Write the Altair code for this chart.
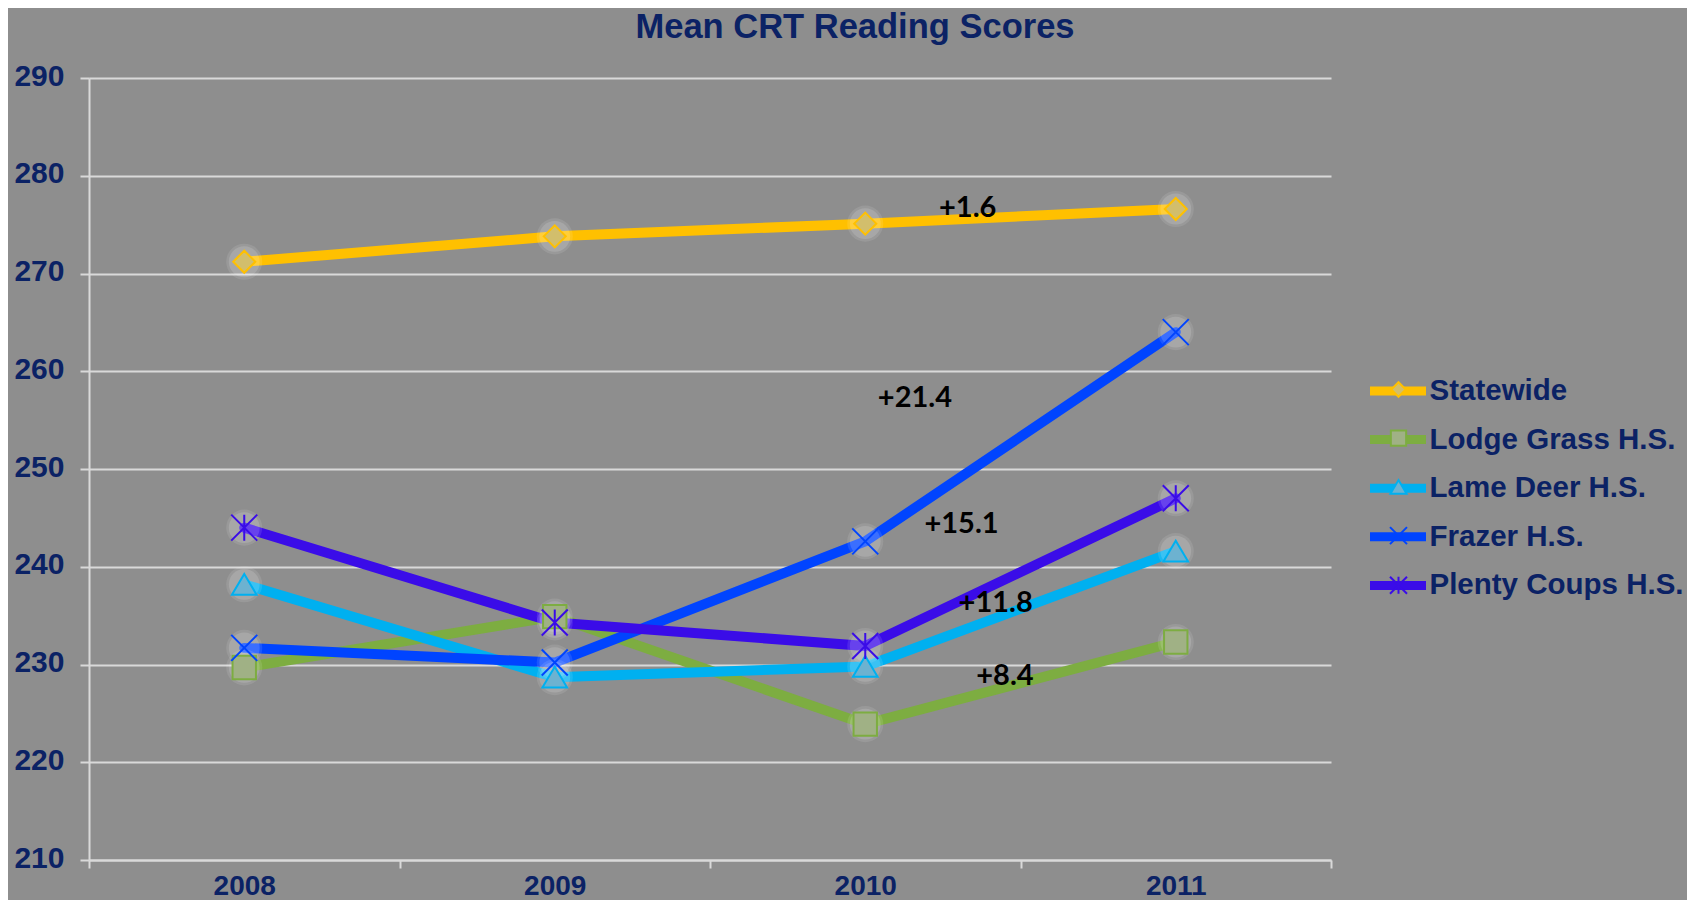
import altair as alt
import pandas as pd

# ---- data ----
years = [2008, 2009, 2010, 2011]
series = ["Statewide", "Lodge Grass H.S.", "Lame Deer H.S.", "Frazer H.S.", "Plenty Coups H.S."]
statewide = [271.2, 273.8, 275.1, 276.6]
lodge_grass = [229.7, 234.9, 223.9, 232.3]
lame_deer = [238.2, 228.7, 229.8, 241.6]
frazer = [231.7, 230.2, 242.6, 264.0]
plenty_coups = [244.0, 234.3, 231.9, 247.0]

ann_text = ["+1.6", "+21.4", "+15.1", "+11.8", "+8.4"]
ann_year = [2010.33, 2010.16, 2010.31, 2010.42, 2010.45]
ann_score = [276.75, 257.3, 244.4, 236.3, 228.8]

y_ticks = [210, 220, 230, 240, 250, 260, 270, 280, 290]
x_ticks = [2007.5, 2008, 2008.5, 2009, 2009.5, 2010, 2010.5, 2011, 2011.5]

# ---- styles ----
line_colors = ["#FFC000", "#7DAD41", "#00B0F0", "#0044FF", "#3A0CE8"]
fill_colors = ["#D2BE6C", "#A0B185", "#6DB2D0", "#0044FF", "#3A0CE8"]
shapes = [
    "M-0.85,0L0,-0.85L0.85,0L0,0.85Z",
    "M-0.9,-0.9H0.9V0.9H-0.9Z",
    "M0,-0.8L0.95,0.8L-0.95,0.8Z",
    "M-1,-1L1,1M-1,1L1,-1",
    "M-1,-1L1,1M-1,1L1,-1M0,-1L0,1",
]
NAVY = "#0B2265"
GRID = "#D9D9D9"
BG = "#8E8E8E"
FONT = "Liberation Sans"

values_by_series = [statewide, lodge_grass, lame_deer, frazer, plenty_coups]
rows = []
for name, vals in zip(series, values_by_series):
    for yr, v in zip(years, vals):
        rows.append({"Series": name, "Year": yr, "Score": v})
df = pd.DataFrame(rows)
ann_df = pd.DataFrame({"text": ann_text, "Year": ann_year, "Score": ann_score})

x_enc = alt.X(
    "Year:Q",
    scale=alt.Scale(domain=[2007.5, 2011.5], nice=False, zero=False),
    axis=alt.Axis(
        values=x_ticks,
        title=None,
        grid=False,
        labelExpr="datum.value % 1 == 0 ? format(datum.value, 'd') : ''",
        tickOpacity={"condition": {"test": "datum.value % 1 == 0", "value": 0}, "value": 1},
        tickSize=8,
        labelPadding=4,
        labelOverlap=False,
        labelFlush=False,
        labelFontSize=28,
    ),
)
y_enc = alt.Y(
    "Score:Q",
    scale=alt.Scale(domain=[210, 290], nice=False, zero=False),
    axis=alt.Axis(
        values=y_ticks,
        title=None,
        grid=True,
        tickSize=9,
        labelPadding=16,
        labelFontSize=30,
        labelOffset=-2,
    ),
)

base = alt.Chart(df)

legend_line = alt.Legend(
    orient="none",
    legendX=1290.5,
    legendY=294.5,
    title=None,
    padding=0,
    rowPadding=11.6,
    symbolType="M-2,0L2,0",
    symbolSize=784,
    symbolStrokeWidth=9,
    labelOffset=13,
    labelFont=FONT,
    labelFontSize=29.5,
    labelFontWeight="bold",
    labelColor=NAVY,
    labelLimit=400,
)

legend_marker = alt.Legend(
    orient="none",
    legendX=1300,
    legendY=302,
    title=None,
    padding=0,
    rowPadding=24.7,
    symbolSize=289,
    symbolStrokeWidth=2,
    labelExpr="''",
    labelFontSize=1,
    labelOffset=0,
)

lines = base.mark_line(strokeWidth=10, strokeCap="round", strokeJoin="round").encode(
    x=x_enc,
    y=y_enc,
    color=alt.Color("Series:N", sort=series, scale=alt.Scale(range=line_colors), legend=legend_line),
)

glow_outer = base.mark_point(filled=True, shape="circle", size=1300, fill="#FFFFFF", opacity=0.10, strokeOpacity=0).encode(
    x=x_enc, y=y_enc
)
glow_inner = base.mark_point(filled=True, shape="circle", size=950, fill="#FFFFFF", opacity=0.14, strokeOpacity=0).encode(
    x=x_enc, y=y_enc
)

points = base.transform_calculate(Series2="datum.Series").mark_point(
    filled=True, size=676, strokeWidth=2, opacity=1
).encode(
    x=x_enc,
    y=y_enc,
    shape=alt.Shape("Series2:N", scale=alt.Scale(domain=series, range=shapes), legend=legend_marker),
    fill=alt.Fill("Series2:N", scale=alt.Scale(domain=series, range=fill_colors), legend=legend_marker),
    stroke=alt.Stroke("Series2:N", scale=alt.Scale(domain=series, range=line_colors), legend=legend_marker),
)

labels = alt.Chart(ann_df).mark_text(
    font="Lato", fontSize=29, fontWeight="bold", color="#000000", align="center", baseline="middle"
).encode(x=alt.X("Year:Q"), y=alt.Y("Score:Q"), text="text:N")

chart = alt.layer(lines, glow_outer, glow_inner, points, labels).properties(
    width=1242,
    height=782,
    padding={"left": 81, "top": 70, "right": 356, "bottom": 40},
    autosize=alt.AutoSizeParams(type="none"),
    background=BG,
    title=alt.TitleParams(
        text="Mean CRT Reading Scores",
        font=FONT,
        fontSize=34.5,
        fontWeight="bold",
        color=NAVY,
        anchor="middle",
        dx=145,
        offset=16,
    ),
).configure_view(stroke=None).configure_axis(
    domainColor=GRID,
    domainWidth=2,
    tickColor=GRID,
    tickWidth=2,
    gridColor=GRID,
    gridWidth=2,
    labelFont=FONT,
    labelFontWeight="bold",
    labelColor=NAVY,
)

chart.save("out.html", embed_options={"renderer": "svg", "actions": False})
